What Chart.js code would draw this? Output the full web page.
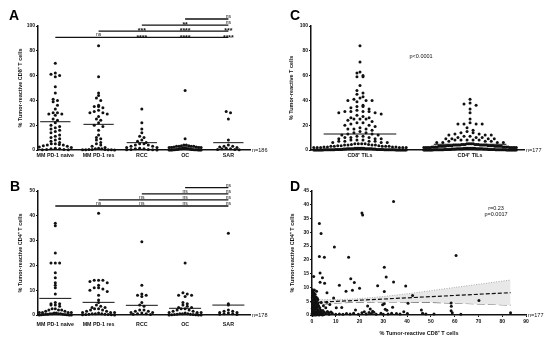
<!DOCTYPE html>
<html>
<head>
<meta charset="utf-8">
<script src="https://cdn.jsdelivr.net/npm/chart.js@4.4.1/dist/chart.umd.min.js"></script>
<style>
  html, body { margin: 0; padding: 0; background: #fff; }
  #wrap { position: relative; width: 550px; height: 344px; overflow: hidden; font-family: 'Liberation Sans', Arial, sans-serif; }
  canvas { position: absolute; }
  .letter { position: absolute; font-weight: bold; font-size: 14px; line-height: 1; color: #000; }
</style>
</head>
<body>
<div id="wrap">
  <canvas id="chartA" style="left:0;top:0;width:275px;height:170px" width="275" height="170"></canvas>
  <canvas id="chartC" style="left:275px;top:0;width:275px;height:170px" width="275" height="170"></canvas>
  <canvas id="chartB" style="left:0;top:170px;width:275px;height:174px" width="275" height="174"></canvas>
  <canvas id="chartD" style="left:275px;top:170px;width:275px;height:174px" width="275" height="174"></canvas>
  <div class="letter" style="left:9px;top:8px">A</div>
  <div class="letter" style="left:290px;top:8px">C</div>
  <div class="letter" style="left:10px;top:179px">B</div>
  <div class="letter" style="left:290px;top:179px">D</div>
</div>
<script>
// groups for panels A and B
const cohorts = ['MM PD-1 naive', 'MM PD-1 res', 'RCC', 'OC', 'SAR'];

// panel A: % tumor-reactive CD8+ T cells
const cd8Naive = [70, 62, 61, 60, 59, 51, 46, 41, 40, 39, 36, 33, 30, 30, 29, 29, 28, 25, 24, 22, 20, 19, 18, 17, 16, 15, 14, 12, 11, 10, 9, 8, 7, 6, 5, 5, 4.5, 4, 4, 3.5, 3, 2.5, 2, 1.5, 1, 1, 0.5, 0.5, 0.3, 0.2];
const cd8Res = [84, 59, 46, 44, 42, 40, 36, 35, 35, 34, 32, 31, 30, 30, 29, 27, 25, 24, 22, 20, 19, 16, 12, 10, 9, 8, 6, 5, 4, 3, 2, 1.5, 1, 1, 0.5, 0.5, 0.5, 0.3, 0.3, 0.2, 0.2, 0.1];
const cd8Rcc = [33, 22, 17, 14, 11, 10, 8, 7, 6, 5, 5, 4, 4, 3, 3, 2, 2, 1.5, 1, 1, 0.5, 0.5, 0.3, 0.2, 0.1];
const cd8Oc = [48, 9, 4, 4, 3.5, 3.5, 3, 3, 3, 3, 2.5, 2.5, 2, 2, 2, 2, 1.5, 1.5, 1.5, 1, 1, 1, 1, 0.8, 0.8, 0.5, 0.5, 0.5, 0.5, 0.3, 0.3, 0.3, 0.2, 0.2, 0.1, 0.1, 0.1, 0, 0, 0];
const cd8Sar = [31, 30, 25, 8, 4, 3, 3, 2.5, 2, 1.5, 1, 1, 0.5, 0.5, 0.3];
const cd8Means = [22.8, 20.7, 5.9, 2.5, 5.9];
const sigA = [
  ['ns', '****', '****', '****'], // vs MM PD-1 naive
  ['***', '****', '***'],         // vs MM PD-1 res
  ['**', 'ns'],                   // vs RCC
  ['ns']                          // vs OC
];

// panel B: % tumor-reactive CD4+ T cells
const cd4Naive = [37, 36, 25, 21, 21, 21, 17, 15, 13, 12, 11, 8.5, 5, 4.5, 4.5, 4, 4, 3.5, 2.5, 2.5, 2, 2, 2, 1.5, 1.5, 1, 1, 1, 1, 0.8, 0.8, 0.5, 0.5, 0.5, 0.5, 0.3, 0.3, 0.3, 0.2, 0.2, 0.1, 0.1, 0, 0, 0];
const cd4Res = [41, 14, 14, 14, 13.5, 13, 12, 11, 11, 10.5, 10, 9.5, 8, 6, 5, 4, 3.5, 3, 3, 2.5, 2.5, 2, 2, 1.5, 1.5, 1, 1, 1, 0.8, 0.5, 0.5, 0.5, 0.3, 0.3, 0.2, 0.2, 0.1, 0.1, 0];
const cd4Rcc = [29.5, 12, 8.5, 8, 8, 7.5, 5, 4, 3.5, 2, 2, 1.5, 1.5, 1, 1, 0.8, 0.5, 0.5, 0.3, 0.2];
const cd4Oc = [21, 9, 8.5, 8, 8, 7.5, 5, 4.5, 4, 3.5, 3, 3, 2.5, 2.5, 2, 2, 1.5, 1.5, 1, 1, 1, 0.8, 0.5, 0.5, 0.5, 0.3, 0.3, 0.2, 0.2, 0.1, 0.1, 0, 0, 0];
const cd4Sar = [33, 4.5, 4, 2, 1.5, 1.5, 1, 1, 0.8, 0.5, 0.5, 0.3, 0.2];
const cd4Means = [6.7, 5.1, 3.9, 2.7, 4.0];
const sigB = [
  ['ns', 'ns', 'ns', 'ns'],
  ['ns', 'ns', 'ns'],
  ['ns', 'ns'],
  ['ns']
];

// panel C: CD8+ vs CD4+ TILs
const tilTypes = ['CD8\u207A TILs', 'CD4\u207A TILs'];
const cd8Tils = [84, 71, 63, 62, 60, 59, 59, 52, 48, 46,
  45, 43, 42, 41, 40, 40, 40, 39, 36, 35,
  35, 34, 33, 32, 31, 31, 31, 31, 30, 30,
  29, 28, 27, 26, 26, 25, 25, 25, 24, 23,
  22, 22, 21, 20, 20, 19, 18, 17, 17, 17,
  16, 15, 14, 14, 13, 13, 12, 12, 11, 11,
  10, 10, 10, 9, 9, 9, 8, 8, 8, 7,
  7, 7, 7, 6, 6, 6, 5, 5, 5, 5,
  4.5, 4.5, 4, 4, 4, 4, 3.5, 3.5, 3.5, 3,
  3, 3, 3, 3, 2.5, 2.5, 2.5, 2.5, 2, 2,
  2, 2, 2, 2, 1.5, 1.5, 1.5, 1.5, 1.5, 1.5,
  1.5, 1.5, 1, 1, 1, 1, 1, 1, 1, 1,
  1, 1, 1, 1, 0.8, 0.8, 0.8, 0.8, 0.8, 0.8,
  0.5, 0.5, 0.5, 0.5, 0.5, 0.5, 0.5, 0.5, 0.5, 0.5,
  0.5, 0.5, 0.3, 0.3, 0.3, 0.3, 0.3, 0.3, 0.3, 0.3,
  0.3, 0.3, 0.2, 0.2, 0.2, 0.2, 0.2, 0.2, 0.2, 0.2,
  0.1, 0.1, 0.1, 0.1, 0.1, 0.1, 0.1, 0.1, 0, 0,
  0, 0, 0, 0, 0, 0, 0];
const cd4Tils = [41, 38, 37, 36, 33, 30, 25, 22, 21, 21,
  21, 21, 18, 16, 15, 14, 14, 13, 13, 12,
  12, 12, 11, 11, 10, 10, 10, 9, 9, 9,
  9, 8, 8, 8, 8, 8, 7, 7, 7, 6,
  6, 6, 6, 5, 5, 5, 5, 5, 4.5, 4.5,
  4.5, 4.5, 4.5, 4.5, 4, 4, 4, 4, 4, 4,
  4, 4, 4, 4, 3.5, 3.5, 3.5, 3.5, 3.5, 3.5,
  3.5, 3.5, 3, 3, 3, 3, 3, 3, 3, 3,
  3, 3, 2.5, 2.5, 2.5, 2.5, 2.5, 2.5, 2.5, 2.5,
  2, 2, 2, 2, 2, 2, 2, 2, 2, 2,
  1.5, 1.5, 1.5, 1.5, 1.5, 1.5, 1.5, 1.5, 1.5, 1.5,
  1, 1, 1, 1, 1, 1, 1, 1, 1, 1,
  1, 1, 0.8, 0.8, 0.8, 0.8, 0.8, 0.8, 0.8, 0.8,
  0.5, 0.5, 0.5, 0.5, 0.5, 0.5, 0.5, 0.5, 0.5, 0.5,
  0.5, 0.5, 0.3, 0.3, 0.3, 0.3, 0.3, 0.3, 0.3, 0.3,
  0.3, 0.3, 0.2, 0.2, 0.2, 0.2, 0.2, 0.2, 0.2, 0.2,
  0.1, 0.1, 0.1, 0.1, 0.1, 0.1, 0.1, 0.1, 0, 0,
  0, 0, 0, 0, 0, 0, 0];
const tilMeans = [12.9, 4.6];

// panel D: paired CD8 (x) / CD4 (y) per patient
const pairCd8 = [34.3, 21, 21.3, 3.1, 3.8, 9.4, 3.1, 5.2, 15.4, 60.6,
  30.4, 0.7, 3.4, 4.4, 31.2, 16.3, 3.4, 5.3, 17.8, 34.3,
  11.5, 27.6, 39.4, 20, 17, 14.3, 30.4, 6.3, 42.3, 9.1,
  70.2, 58.5, 58.6, 40.4, 29.7, 30.4, 33.9, 23.4, 10.2, 7.5,
  12.5, 18.3, 24.5, 25.5, 30.8, 31.5, 58.5, 46,
  6, 7.2, 8.5, 10, 11.5, 13, 14.5, 16, 17.5, 19.5,
  21, 22, 22.8, 24, 25, 26, 27, 29, 30, 32,
  33.5, 35.5, 37, 38.6, 40.1, 46.5, 47.9, 51.3, 59, 62.6,
  83.5,
  0.2, 0.4, 0.8, 0.3, 0.6, 1.1, 0.2, 0.9, 1.5, 0.4,
  1.2, 2, 0.1, 0.7, 1.6, 2.5, 0.3, 1, 1.9, 2.8,
  0.5, 1.3, 2.2, 3.3, 0.1, 0.8, 1.6, 2.6, 3.6, 4.6,
  0.3, 1.1, 2, 2.9, 3.9, 5.2, 0.6, 1.4, 2.3, 3.2,
  4.3, 0.1, 0.9, 1.8, 2.7, 3.7, 5, 0.4, 1.2, 2.1,
  3, 0, 0.6, 1.5, 4.4, 6.5, 8, 5.8, 4.8, 3.9,
  2.4, 1.7, 1.3, 1.9, 2.2, 1, 6.2, 7];
const pairCd4 = [41.2, 37, 36.3, 33.2, 29.6, 24.7, 21.2, 21, 21, 21.6,
  17.3, 14, 15.2, 13.5, 13.8, 13.2, 11.9, 11.5, 11.8, 12,
  10.8, 10.6, 10.5, 9.7, 9, 8.6, 8.5, 8.1, 7.1, 6.2,
  5.3, 4.4, 3.2, 4.3, 3.7, 4.1, 2.8, 3.3, 2.6, 3.8,
  2.7, 1.8, 2.2, 1.4, 2.1, 1.7, 1.5, 1.8,
  0.5, 0.3, 0.6, 0.3, 0.4, 0.3, 0.5, 0.4, 0.6, 0.3,
  0.8, 1.2, 0.4, 0.9, 0.5, 1, 0.3, 0.6, 0.3, 0.4,
  0.6, 0.5, 0.4, 1.2, 0.5, 0.6, 0.4, 0.4, 0.8, 0.3,
  0.8,
  9.2, 8.4, 8, 7.6, 7.1, 6.8, 6.4, 6, 5.8, 5.4,
  5.1, 4.9, 4.6, 4.4, 4.2, 4.1, 3.8, 3.6, 3.4, 3.3,
  3, 2.8, 2.7, 2.6, 2.4, 2.2, 2.1, 1.9, 1.8, 1.6,
  1.6, 1.4, 1.3, 1.2, 1.1, 1, 1, 0.8, 0.7, 0.6,
  0.5, 0.6, 0.4, 0.3, 0.3, 0.2, 0.2, 0.2, 0.1, 0.1,
  0, 0, 0, 0, 0, 1.3, 1.1, 2.6, 3.4, 4.5,
  5.5, 6.5, 7.5, 8.6, 6.1, 9.1, 4.6, 0.9];
// regression fit and 95% band
const fitX = [0, 83.5];
const fitY = [4.5, 8.1];
const bandX = [0, 12, 25, 40, 60, 83.5];
const bandUpper = [5.6, 5.6, 6.3, 7.7, 10.0, 12.7];
const bandLower = [3.4, 4.4, 4.7, 4.7, 4.3, 3.6];

const FONT = "'Liberation Sans', Arial, sans-serif";
const INK = '#111';
Chart.defaults.font.family = FONT;
Chart.defaults.color = INK;

// spread tied values sideways like a dot plot (centre-out within each value bin)
function swarm(values, center, binSize, step, maxHalf) {
  const bins = {};
  values.forEach(v => {
    const k = Math.round(v / binSize);
    (bins[k] = bins[k] || []).push(v);
  });
  const pts = [];
  Object.values(bins).forEach(group => {
    const n = group.length;
    const d = n > 1 ? Math.min(step, (2 * maxHalf) / (n - 1)) : 0;
    const slots = group.map((_, i) => (i - (n - 1) / 2) * d)
      .sort((a, b) => Math.abs(a) - Math.abs(b) || a - b);
    group.forEach((v, i) => pts.push({ x: center + slots[i], y: v }));
  });
  return pts;
}

// n labels, significance brackets and free text
const annot = {
  id: 'annot',
  afterDatasetsDraw(chart, args, opts) {
    const { ctx, chartArea } = chart;
    const x = chart.scales.x, y = chart.scales.y;
    ctx.save();
    ctx.fillStyle = INK;
    if (opts.nText) {
      ctx.font = '5.5px ' + FONT;
      ctx.textAlign = 'left';
      ctx.textBaseline = 'middle';
      ctx.fillText(opts.nText, chartArea.right + 2, y.getPixelForValue(0));
    }
    if (opts.sig) {
      const last = opts.sig.length + 1;
      opts.sig.forEach((labels, k) => {
        const yy = chartArea.top + opts.base - k * opts.gap;
        ctx.strokeStyle = INK;
        ctx.lineWidth = 1.3;
        ctx.beginPath();
        ctx.moveTo(x.getPixelForValue(k + 1), yy);
        ctx.lineTo(x.getPixelForValue(last), yy);
        ctx.stroke();
        ctx.textAlign = 'center';
        ctx.textBaseline = 'alphabetic';
        labels.forEach((t, j) => {
          const cx = x.getPixelForValue(k + 2 + j);
          if (t.indexOf('*') >= 0) {
            ctx.font = 'bold 7px ' + FONT;
            ctx.fillText(t, cx, yy + 2.2);
          } else {
            ctx.font = '5px ' + FONT;
            ctx.fillText(t, cx, yy - 1.2);
          }
        });
      });
    }
    (opts.texts || []).forEach(t => {
      ctx.font = '5.5px ' + FONT;
      ctx.textAlign = 'center';
      ctx.textBaseline = 'middle';
      ctx.fillText(t.text, x.getPixelForValue(t.x), y.getPixelForValue(t.y));
    });
    ctx.restore();
  }
};
Chart.register(annot);

function yAxis(max, step, title, titlePad) {
  return {
    min: 0, max: max,
    ticks: { stepSize: step, font: { size: 5, weight: 'bold' }, color: INK, padding: 1 },
    grid: { drawOnChartArea: false, drawTicks: true, tickLength: 2, color: INK, lineWidth: 1 },
    border: { color: INK, width: 1.5 },
    title: { display: true, text: title, font: { size: 5.5, weight: 'bold' }, color: INK, padding: { top: titlePad, bottom: 0 } },
    afterFit: s => { s.width = 25; }
  };
}

function dotPlot(id, c) {
  const datasets = [];
  c.groups.forEach((vals, i) => {
    datasets.push({
      type: 'scatter', data: swarm(vals, i + 1, c.bin, c.step, c.half),
      backgroundColor: INK, borderWidth: 0, pointRadius: 1.5, clip: false
    });
  });
  c.means.forEach((m, i) => {
    datasets.push({
      type: 'line', data: [{ x: i + 1 - c.meanHalf, y: m }, { x: i + 1 + c.meanHalf, y: m }],
      borderColor: INK, borderWidth: 1, pointRadius: 0, clip: false
    });
  });
  return new Chart(document.getElementById(id), {
    type: 'scatter',
    data: { datasets },
    options: {
      responsive: false, animation: false, events: [],
      layout: { padding: c.pad },
      plugins: {
        legend: { display: false }, tooltip: { enabled: false },
        annot: { nText: c.nText, sig: c.sig, base: c.base, gap: 6.1, texts: c.texts }
      },
      scales: {
        x: {
          type: 'linear', min: c.xMin, max: c.xMax,
          afterBuildTicks: s => { s.ticks = c.cats.map((_, i) => ({ value: i + 1 })); },
          ticks: { autoSkip: false, maxRotation: 0, padding: c.labelPad, font: { size: 5.3, weight: 'bold' }, color: INK,
            callback: v => c.cats[v - 1] },
          grid: { display: false, drawTicks: false },
          border: { display: true, color: INK, width: 1.5 },
          afterFit: s => { s.height = c.xH; }
        },
        y: yAxis(c.yMax, c.yStep, c.yTitle, c.titlePad)
      }
    }
  });
}

dotPlot('chartA', {
  groups: [cd8Naive, cd8Res, cd8Rcc, cd8Oc, cd8Sar], means: cd8Means, cats: cohorts,
  bin: 3.4, step: 0.1, half: 0.37, meanHalf: 0.35,
  pad: { left: 13, top: 26, right: 25, bottom: 0 }, xH: 20, labelPad: 2,
  xMin: 0.6, xMax: 5.5, yMax: 100, yStep: 20, titlePad: 4.4,
  yTitle: '% Tumor-reactive CD8\u207A T cells', nText: 'n=186',
  sig: sigA, base: 11.3
});

dotPlot('chartB', {
  groups: [cd4Naive, cd4Res, cd4Rcc, cd4Oc, cd4Sar], means: cd4Means, cats: cohorts,
  bin: 1.7, step: 0.1, half: 0.37, meanHalf: 0.37,
  pad: { left: 13, top: 21, right: 25, bottom: 0 }, xH: 29, labelPad: 6,
  xMin: 0.6, xMax: 5.5, yMax: 50, yStep: 10, titlePad: 4.4,
  yTitle: '% Tumor-reactive CD4\u207A T cells', nText: 'n=178',
  sig: sigB, base: 15
});

dotPlot('chartC', {
  groups: [cd8Tils, cd4Tils], means: tilMeans, cats: tilTypes,
  bin: 3.4, step: 0.055, half: 0.42, meanHalf: 0.33,
  pad: { left: 11, top: 26, right: 26, bottom: 0 }, xH: 20, labelPad: 2,
  xMin: 0.555, xMax: 2.49, yMax: 100, yStep: 20, titlePad: 2.4,
  yTitle: '% Tumor-reactive T cells', nText: 'n=177',
  texts: [{ x: 1.555, y: 75.8, text: 'p<0.0001' }]
});

// panel D: correlation scatter
new Chart(document.getElementById('chartD'), {
  type: 'scatter',
  data: {
    datasets: [
      { type: 'scatter', data: pairCd8.map((v, i) => ({ x: v, y: pairCd4[i] })),
        backgroundColor: INK, borderWidth: 0, pointRadius: 1.5, clip: false },
      { type: 'line', data: fitX.map((v, i) => ({ x: v, y: fitY[i] })),
        borderColor: INK, borderWidth: 1.2, borderDash: [4, 2], pointRadius: 0, fill: false },
      { type: 'line', data: bandX.map((v, i) => ({ x: v, y: bandUpper[i] })),
        borderColor: '#9a9a9a', borderWidth: 0.8, borderDash: [1, 1.5], pointRadius: 0,
        fill: '+1', backgroundColor: '#e8e8e8', tension: 0.3 },
      { type: 'line', data: bandX.map((v, i) => ({ x: v, y: bandLower[i] })),
        borderColor: '#555', borderWidth: 1, borderDash: [8, 3], pointRadius: 0, fill: false, tension: 0.3 }
    ]
  },
  options: {
    responsive: false, animation: false, events: [],
    layout: { padding: { left: 12, top: 21, right: 24, bottom: 0 } },
    plugins: {
      legend: { display: false }, tooltip: { enabled: false },
      annot: { nText: 'n=177', texts: [{ x: 77.4, y: 38.8, text: 'r=0.23' }, { x: 77.4, y: 36.6, text: 'p=0.0017' }] }
    },
    scales: {
      x: {
        type: 'linear', min: 0, max: 90,
        ticks: { stepSize: 10, font: { size: 5, weight: 'bold' }, color: INK, padding: 2, maxRotation: 0 },
        grid: { drawOnChartArea: false, drawTicks: true, tickLength: 2, color: INK, lineWidth: 1 },
        border: { color: INK, width: 1.5 },
        title: { display: true, text: '% Tumor-reactive CD8\u207A T cells', font: { size: 5.5, weight: 'bold' }, color: INK,
          padding: { top: 0, bottom: 7.7 } },
        afterFit: s => { s.height = 29; }
      },
      y: yAxis(45, 5, '% Tumor-reactive CD4\u207A T cells', 2)
    }
  }
});
</script>
</body>
</html>
